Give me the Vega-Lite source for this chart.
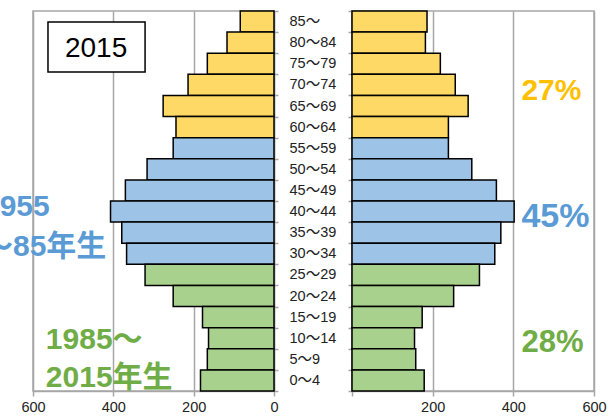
{
  "$schema": "https://vega.github.io/schema/vega-lite/v6.json",
  "background": "white",
  "padding": {"left": -18, "top": 2, "right": 0, "bottom": 0},
  "bounds": "flush",
  "spacing": 78,
  "config": {
    "font": "Liberation Sans, 'Noto Sans CJK JP', sans-serif",
    "view": {"stroke": "#a6a6a6", "strokeWidth": 1.5},
    "axis": {
      "domainColor": "#a6a6a6",
      "domainWidth": 1.5,
      "tickColor": "#a6a6a6",
      "tickWidth": 1.5,
      "gridColor": "#a6a6a6",
      "gridWidth": 1.5,
      "labelFont": "Liberation Sans, 'Noto Sans CJK JP', sans-serif",
      "labelFontSize": 14.5,
      "labelColor": "#222222"
    }
  },
  "datasets": {
    "pop": [
      {"age": "85～", "left": 84, "right": 186, "group": "～1955年生"},
      {"age": "80～84", "left": 117, "right": 182, "group": "～1955年生"},
      {"age": "75～79", "left": 166, "right": 219, "group": "～1955年生"},
      {"age": "70～74", "left": 214, "right": 256, "group": "～1955年生"},
      {"age": "65～69", "left": 276, "right": 288, "group": "～1955年生"},
      {"age": "60～64", "left": 244, "right": 239, "group": "～1955年生"},
      {"age": "55～59", "left": 251, "right": 239, "group": "1955～85年生"},
      {"age": "50～54", "left": 316, "right": 297, "group": "1955～85年生"},
      {"age": "45～49", "left": 370, "right": 358, "group": "1955～85年生"},
      {"age": "40～44", "left": 407, "right": 402, "group": "1955～85年生"},
      {"age": "35～39", "left": 379, "right": 369, "group": "1955～85年生"},
      {"age": "30～34", "left": 367, "right": 354, "group": "1955～85年生"},
      {"age": "25～29", "left": 321, "right": 316, "group": "1985～2015年生"},
      {"age": "20～24", "left": 251, "right": 252, "group": "1985～2015年生"},
      {"age": "15～19", "left": 178, "right": 174, "group": "1985～2015年生"},
      {"age": "10～14", "left": 163, "right": 155, "group": "1985～2015年生"},
      {"age": "5～9", "left": 166, "right": 158, "group": "1985～2015年生"},
      {"age": "0～4", "left": 183, "right": 179, "group": "1985～2015年生"}
    ]
  },
  "hconcat": [
    {
      "width": 241,
      "height": 380,
      "data": {"name": "pop"},
      "layer": [
        {
          "mark": {"type": "bar", "stroke": "black", "strokeWidth": 1.5},
          "encoding": {
            "y": {
              "field": "age",
              "type": "nominal",
              "title": null,
              "scale": {
                "domain": ["85～", "80～84", "75～79", "70～74", "65～69", "60～64", "55～59", "50～54", "45～49", "40～44", "35～39", "30～34", "25～29", "20～24", "15～19", "10～14", "5～9", "0～4"],
                "paddingInner": 0,
                "paddingOuter": 0
              },
              "axis": {"orient": "right", "labels": false, "tickBand": "extent", "tickSize": 4}
            },
            "x": {
              "field": "left",
              "type": "quantitative",
              "title": null,
              "scale": {"domain": [0, 600], "reverse": true, "nice": false},
              "axis": {"values": [0, 200, 400, 600], "grid": true, "tickSize": 5, "labelPadding": 4, "labelFlush": false}
            },
            "color": {
              "field": "group",
              "type": "nominal",
              "scale": {"domain": ["～1955年生", "1955～85年生", "1985～2015年生"], "range": ["#FFD966", "#9DC3E6", "#A9D18E"]},
              "legend": null
            }
          }
        },
        {
          "data": {"values": [{}]},
          "mark": {"type": "rect", "fill": "white", "stroke": "black", "strokeWidth": 1.5, "height": 50, "yOffset": 4.35},
          "encoding": {
            "x": {"datum": 562.7, "type": "quantitative"},
            "x2": {"datum": 321},
            "y": {"datum": "80～84", "type": "nominal"}
          }
        },
        {
          "data": {"values": [{}]},
          "mark": {"type": "text", "fontSize": 28, "align": "center", "baseline": "alphabetic", "dy": 14.35, "color": "black"},
          "encoding": {
            "x": {"datum": 443, "type": "quantitative"},
            "y": {"datum": "80～84", "type": "nominal"},
            "text": {"value": "2015"}
          }
        },
        {
          "data": {"values": [{}]},
          "mark": {"type": "text", "fontSize": 30, "fontWeight": "bold", "align": "left", "baseline": "alphabetic", "dy": 4.5, "lineHeight": 40, "color": "#5B9BD5"},
          "encoding": {
            "x": {"datum": 724.5, "type": "quantitative"},
            "y": {"datum": "40～44", "type": "nominal"},
            "text": {"value": ["1955", "～85年生"]}
          }
        },
        {
          "data": {"values": [{}]},
          "mark": {"type": "text", "fontSize": 30, "fontWeight": "bold", "align": "left", "baseline": "alphabetic", "dy": 10.7, "lineHeight": 38.3, "color": "#70AD47"},
          "encoding": {
            "x": {"datum": 568, "type": "quantitative"},
            "y": {"datum": "10～14", "type": "nominal"},
            "text": {"value": ["1985～", "2015年生"]}
          }
        }
      ]
    },
    {
      "width": 242,
      "height": 380,
      "data": {"name": "pop"},
      "layer": [
        {
          "mark": {"type": "bar", "stroke": "black", "strokeWidth": 1.5},
          "encoding": {
            "y": {
              "field": "age",
              "type": "nominal",
              "title": null,
              "scale": {
                "domain": ["85～", "80～84", "75～79", "70～74", "65～69", "60～64", "55～59", "50～54", "45～49", "40～44", "35～39", "30～34", "25～29", "20～24", "15～19", "10～14", "5～9", "0～4"],
                "paddingInner": 0,
                "paddingOuter": 0
              },
              "axis": {
                "orient": "left",
                "tickBand": "extent",
                "tickSize": 4,
                "labelAlign": "left",
                "labelBaseline": "middle",
                "labelPadding": 59,
                "labelExpr": "indexof(['0～4', '5～9'], datum.label) >= 0 ? '\u00a0\u00a0\u00a0' + datum.label : datum.label"
              }
            },
            "x": {
              "field": "right",
              "type": "quantitative",
              "title": null,
              "scale": {"domain": [0, 600], "nice": false},
              "axis": {"values": [0, 200, 400, 600], "grid": true, "tickSize": 5, "labelPadding": 4, "labelFlush": false, "labelExpr": "datum.value == 0 ? '' : datum.label"}
            },
            "color": {
              "field": "group",
              "type": "nominal",
              "scale": {"domain": ["～1955年生", "1955～85年生", "1985～2015年生"], "range": ["#FFD966", "#9DC3E6", "#A9D18E"]},
              "legend": null
            }
          }
        },
        {
          "data": {"values": [{}]},
          "mark": {"type": "text", "fontSize": 30, "fontWeight": "bold", "align": "left", "baseline": "alphabetic", "dy": 15.4, "color": "#FFC000"},
          "encoding": {
            "x": {"datum": 420, "type": "quantitative"},
            "y": {"datum": "70～74", "type": "nominal"},
            "text": {"value": "27%"}
          }
        },
        {
          "data": {"values": [{}]},
          "mark": {"type": "text", "fontSize": 34, "fontWeight": "bold", "align": "left", "baseline": "alphabetic", "dy": -5.6, "color": "#5B9BD5"},
          "encoding": {
            "x": {"datum": 420, "type": "quantitative"},
            "y": {"datum": "35～39", "type": "nominal"},
            "text": {"value": "45%"}
          }
        },
        {
          "data": {"values": [{}]},
          "mark": {"type": "text", "fontSize": 31, "fontWeight": "bold", "align": "left", "baseline": "alphabetic", "dy": 13.3, "color": "#70AD47"},
          "encoding": {
            "x": {"datum": 420, "type": "quantitative"},
            "y": {"datum": "10～14", "type": "nominal"},
            "text": {"value": "28%"}
          }
        }
      ]
    }
  ]
}
